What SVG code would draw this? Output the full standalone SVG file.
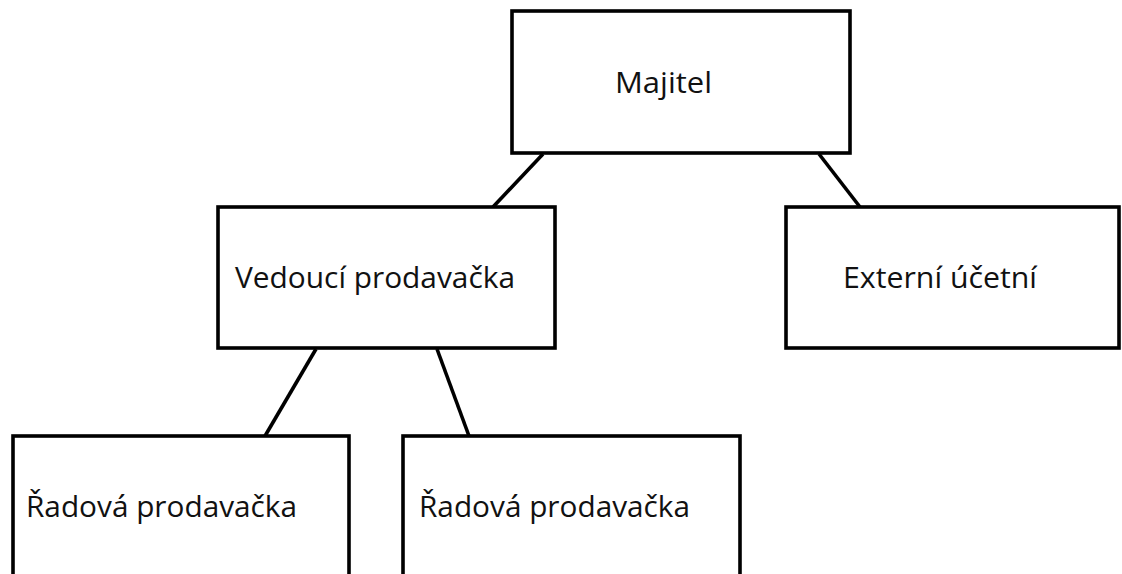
<svg xmlns="http://www.w3.org/2000/svg" width="1122" height="574" viewBox="0 0 1122 574">
<style>
.box{fill:#fff;stroke:#000;stroke-width:3.6}
.lbl{font-family:"Open Sans","Liberation Sans",sans-serif;font-size:29px;fill:#111}
.con line{stroke:#000;stroke-width:3.6}
</style>
<rect width="1122" height="574" fill="#fff"/>
<g class="con" id="connectors">
<line x1="543" y1="154" x2="493" y2="207"/>
<line x1="819" y1="154" x2="860" y2="207"/>
<line x1="316" y1="349" x2="265" y2="436"/>
<line x1="437" y1="349" x2="469" y2="436"/>
</g>
<g id="majitel">
<rect class="box" x="512" y="11" width="338" height="142"/>
<text class="lbl" x="615" y="93" textLength="97" lengthAdjust="spacingAndGlyphs">Majitel</text>
</g>
<g id="vedouci">
<rect class="box" x="218" y="207" width="337" height="141"/>
<text class="lbl" x="235" y="288" textLength="280" lengthAdjust="spacingAndGlyphs">Vedoucí prodavačka</text>
</g>
<g id="externi">
<rect class="box" x="786" y="207" width="333" height="141"/>
<text class="lbl" x="843" y="288" textLength="194" lengthAdjust="spacingAndGlyphs">Externí účetní</text>
</g>
<g id="radova1">
<rect class="box" x="13" y="436" width="336" height="160"/>
<text class="lbl" x="26" y="517" textLength="271" lengthAdjust="spacingAndGlyphs">Řadová prodavačka</text>
</g>
<g id="radova2">
<rect class="box" x="403" y="436" width="337" height="160"/>
<text class="lbl" x="419" y="517" textLength="271" lengthAdjust="spacingAndGlyphs">Řadová prodavačka</text>
</g>
</svg>
